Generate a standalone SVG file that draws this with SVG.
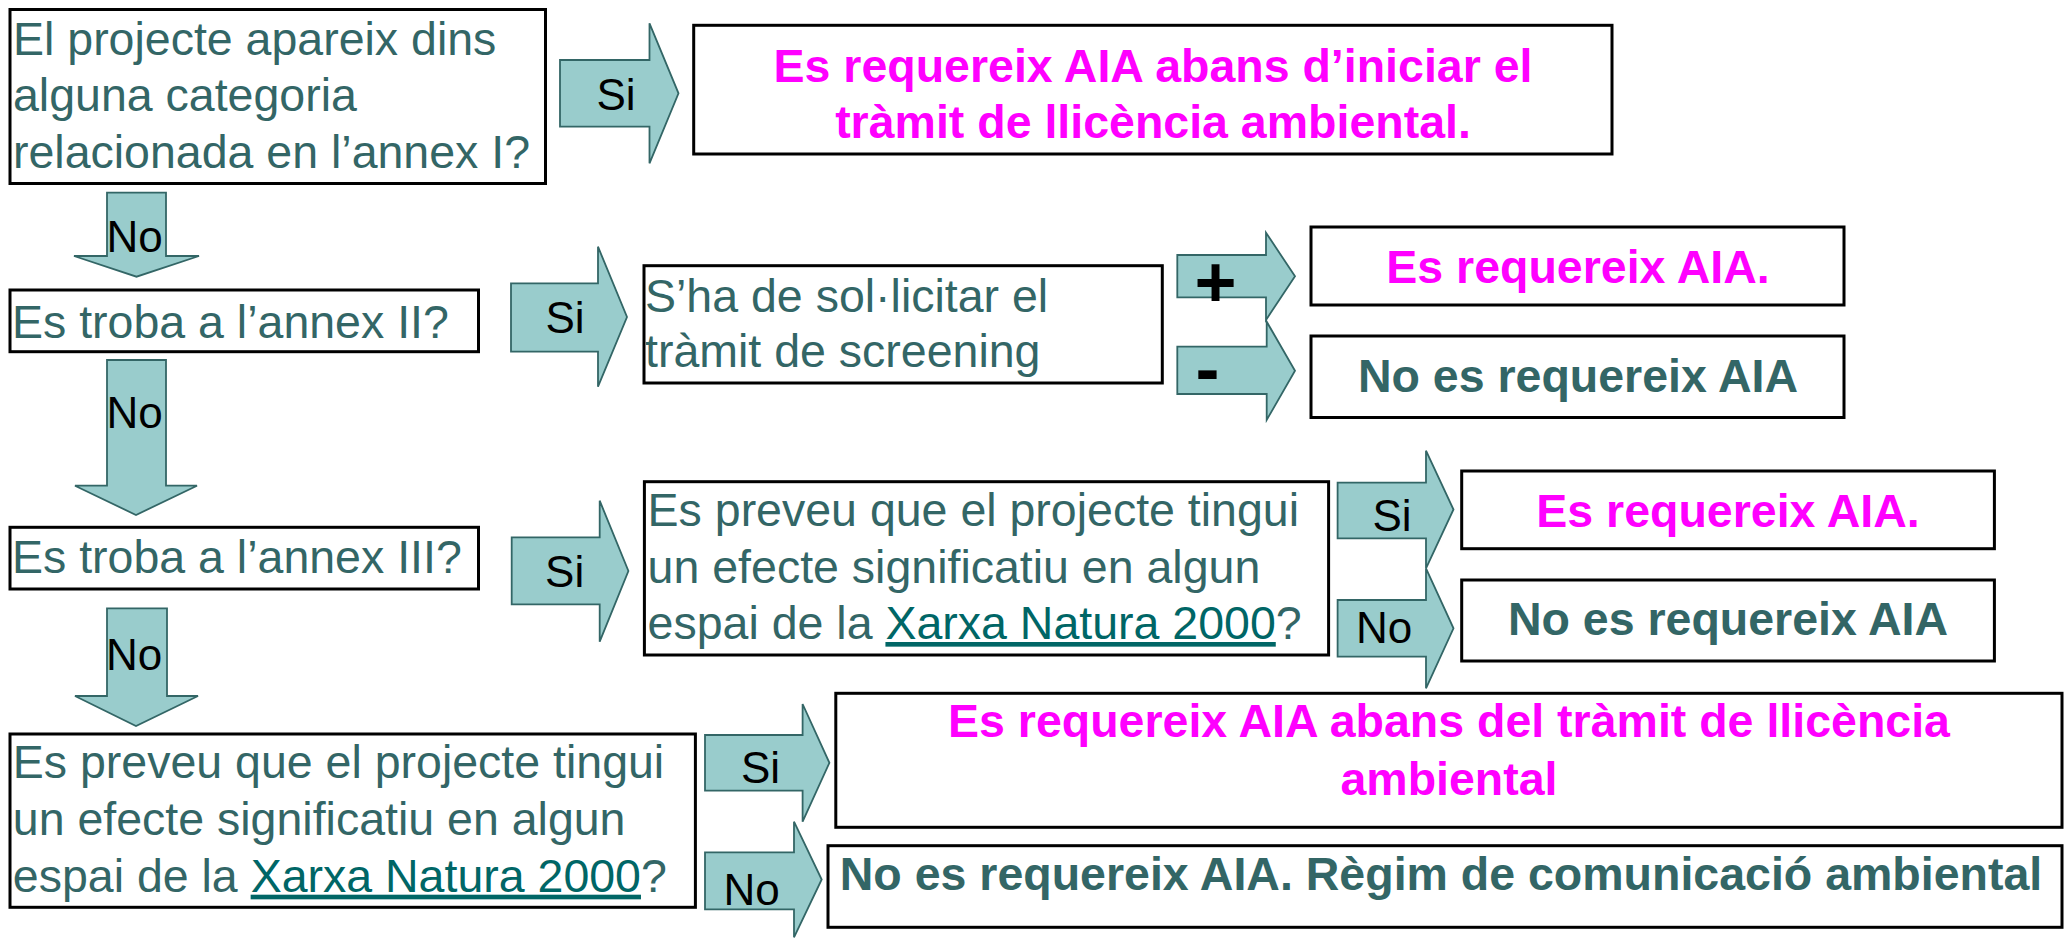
<svg xmlns="http://www.w3.org/2000/svg" width="2069" height="938" viewBox="0 0 2069 938">
<style>
.box{fill:#fff;stroke:#000;stroke-width:3}
.t{font-family:"Liberation Sans",Arial,sans-serif;font-size:46.5px;fill:#336666}
.b{font-weight:bold}
.m{fill:#FF00FF}
.c{text-anchor:middle}
.lnk{fill:#006666;text-decoration:underline}
.arr{fill:#99CCCC;stroke:#336666;stroke-width:1.8;stroke-linejoin:miter}
.lbl{font-family:"Liberation Sans",Arial,sans-serif;font-size:44px;fill:#000;text-anchor:middle}
.sym{font-family:"Liberation Sans",Arial,sans-serif;font-size:72px;font-weight:bold;fill:#000}
</style>
<rect width="2069" height="938" fill="#fff"/>
<g id="connectors">
  <path class="arr" d="M560,60 H649.5 V23.3 L678.5,93.3 L649.5,163.3 V126.7 H560 Z"/>
  <text class="lbl" x="616" y="110">Si</text>
  <path class="arr" d="M107,192.7 V256 H74 L136.5,276.7 L199,256 H166 V192.7 Z"/>
  <text class="lbl" x="134.5" y="251.7">No</text>
  <path class="arr" d="M511,283.3 H598 V246.7 L627,317 L598,386.7 V351.7 H511 Z"/>
  <text class="lbl" x="565" y="333">Si</text>
  <path class="arr" d="M107,360 V485.7 H75 L136,515 L197,485.7 H166 V360 Z"/>
  <text class="lbl" x="134.5" y="428">No</text>
  <path class="arr" d="M511.7,537.3 H599.7 V500.7 L628.4,571 L599.7,641.7 V604.3 H511.7 Z"/>
  <text class="lbl" x="564.6" y="586.7">Si</text>
  <path class="arr" d="M107,608.3 V696 H75 L136,726 L198,696 H167 V608.3 Z"/>
  <text class="lbl" x="134" y="670">No</text>
  <path class="arr" d="M1177.3,255 H1266 V232.7 L1295,276.3 L1266,320 V297.3 H1177.3 Z"/>
  <text class="sym" x="1194.6" y="307">+</text>
  <path class="arr" d="M1177.3,346.7 H1266.7 V321.7 L1295,370.8 L1266.7,420 V394 H1177.3 Z"/>
  <text class="sym" x="1195.4" y="393">-</text>
  <path class="arr" d="M1337.6,482.7 H1426 V450.7 L1453.5,509.5 L1426,568.3 V538.3 H1337.6 Z"/>
  <text class="lbl" x="1392" y="530.7">Si</text>
  <path class="arr" d="M1337.6,600 H1426 V568.3 L1453.5,628.3 L1426,688.3 V656.7 H1337.6 Z"/>
  <text class="lbl" x="1384" y="643.3">No</text>
  <path class="arr" d="M705,735 H802.6 V704 L829.4,762.8 L802.6,821.7 V790.7 H705 Z"/>
  <text class="lbl" x="760.5" y="783.3">Si</text>
  <path class="arr" d="M705,852.3 H794 V821.7 L821.7,879.5 L794,937.3 V909.3 H705 Z"/>
  <text class="lbl" x="751.5" y="905">No</text>
</g>
<g id="q1">
  <rect class="box" x="10" y="9.5" width="535.5" height="174"/>
  <text class="t" x="13" y="55">El projecte apareix dins</text>
  <text class="t" x="13" y="111">alguna categoria</text>
  <text class="t" x="13" y="168">relacionada en l’annex I?</text>
</g>
<g id="r1">
  <rect class="box" x="693.7" y="25.3" width="918.3" height="128.7"/>
  <text class="t b m c" x="1153" y="81.7">Es requereix AIA abans d’iniciar el</text>
  <text class="t b m c" x="1153" y="138.3">tràmit de llicència ambiental.</text>
</g>
<g id="q2">
  <rect class="box" x="10" y="290" width="468.5" height="61.7"/>
  <text class="t" x="12" y="338.3">Es troba a l’annex II?</text>
</g>
<g id="screening">
  <rect class="box" x="644" y="265.7" width="518.3" height="117.3"/>
  <text class="t" x="645" y="311.7">S’ha de sol·licitar el</text>
  <text class="t" x="645" y="366.7">tràmit de screening</text>
</g>
<g id="r2plus">
  <rect class="box" x="1311" y="227" width="533" height="78"/>
  <text class="t b m c" x="1578" y="283">Es requereix AIA.</text>
</g>
<g id="r2minus">
  <rect class="box" x="1311" y="336" width="533" height="81.5"/>
  <text class="t b c" x="1578" y="391.7">No es requereix AIA</text>
</g>
<g id="q3">
  <rect class="box" x="10" y="527.3" width="468.5" height="61.7"/>
  <text class="t" x="12" y="573.3">Es troba a l’annex III?</text>
</g>
<g id="q3n">
  <rect class="box" x="644.4" y="481.7" width="684.2" height="173.3"/>
  <text class="t" x="647.6" y="526">Es preveu que el projecte tingui</text>
  <text class="t" x="647.6" y="582.5">un efecte significatiu en algun</text>
  <text class="t" x="647.6" y="639">espai de la <tspan class="lnk">Xarxa Natura 2000</tspan>?</text>
</g>
<g id="r3si">
  <rect class="box" x="1461.7" y="471" width="532.7" height="77.7"/>
  <text class="t b m c" x="1728" y="527.3">Es requereix AIA.</text>
</g>
<g id="r3no">
  <rect class="box" x="1461.7" y="580" width="532.7" height="81"/>
  <text class="t b c" x="1728" y="635">No es requereix AIA</text>
</g>
<g id="q4">
  <rect class="box" x="10" y="734" width="685.4" height="173.3"/>
  <text class="t" x="12.8" y="778.3">Es preveu que el projecte tingui</text>
  <text class="t" x="12.8" y="835">un efecte significatiu en algun</text>
  <text class="t" x="12.8" y="891.7">espai de la <tspan class="lnk">Xarxa Natura 2000</tspan>?</text>
</g>
<g id="r4si">
  <rect class="box" x="835.8" y="693.3" width="1226.2" height="134"/>
  <text class="t b m c" x="1449" y="736.7">Es requereix AIA abans del tràmit de llicència</text>
  <text class="t b m c" x="1449" y="795">ambiental</text>
</g>
<g id="r4no">
  <rect class="box" x="828" y="845.7" width="1234" height="81.6"/>
  <text class="t b c" x="1441" y="890">No es requereix AIA. Règim de comunicació ambiental</text>
</g>
</svg>
